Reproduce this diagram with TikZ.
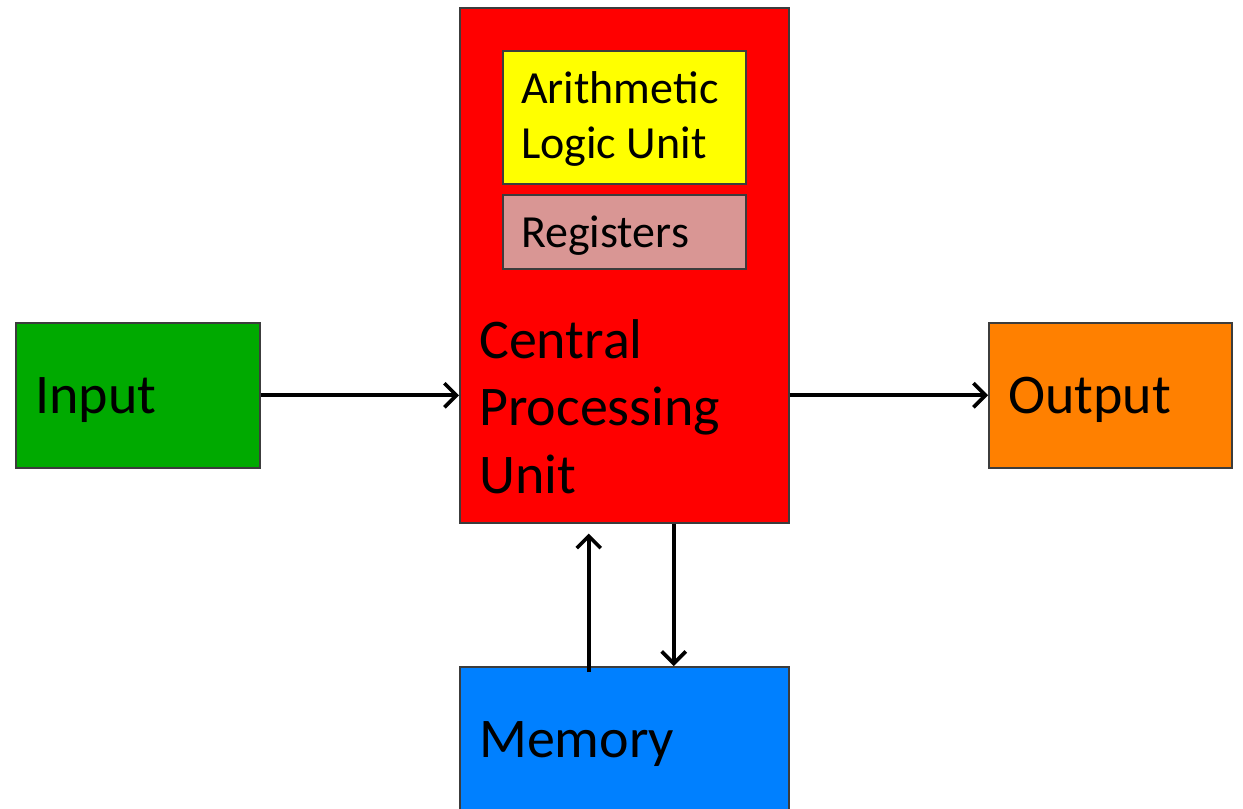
\documentclass[tikz,border=0pt]{standalone}
\usepackage{fontspec}
\setmainfont{Carlito}
\usetikzlibrary{arrows.meta}
\definecolor{ingreen}{RGB}{0,170,0}
\definecolor{cpured}{RGB}{255,0,0}
\definecolor{aluyellow}{RGB}{255,255,0}
\definecolor{regpink}{RGB}{217,150,148}
\definecolor{outorange}{RGB}{255,128,0}
\definecolor{memblue}{RGB}{0,128,255}
\definecolor{edgegray}{RGB}{60,60,60}
\tikzset{
  box/.style={draw=edgegray, line width=1.5pt, rectangle, inner sep=0pt, anchor=north west},
  bigtxt/.style={font=\fontsize{56}{67.5}\selectfont, anchor=base west, inner sep=0pt, align=left, text=black},
  smalltxt/.style={font=\fontsize{46}{55}\selectfont, anchor=base west, inner sep=0pt, align=left, text=black},
  arr/.style={draw=black, line width=3.6pt, -{Straight Barb[length=12pt, width=24pt, line width=3.6pt]}}
}
\begin{document}
\begin{tikzpicture}[x=1pt, y=-1pt]
\useasboundingbox (0,0) rectangle (1243,809);
\clip (0,0) rectangle (1243,809);
% boxes
\node[box, fill=ingreen, minimum width=244pt, minimum height=145pt] (input) at (15,322) {};
\node[box, fill=cpured, minimum width=329pt, minimum height=515pt] (cpu) at (459,7) {};
\node[box, fill=aluyellow, minimum width=243pt, minimum height=133pt] (alu) at (502,50) {};
\node[box, fill=regpink, minimum width=243pt, minimum height=74pt] (reg) at (502,194) {};
\node[box, fill=outorange, minimum width=243pt, minimum height=145pt] (output) at (988,322) {};
\node[box, fill=memblue, minimum width=329pt, minimum height=170pt] (memory) at (459,666) {};
% texts
\node[bigtxt] (inputtxt) at (35,413) {Input};
\node[bigtxt] (outputtxt) at (1008,413) {Output};
\node[bigtxt] (memtxt) at (479,757) {Memory};
\node[bigtxt, anchor=north west] (cputxt) at (479,319) {Central\\Processing\\Unit};
\node[smalltxt, anchor=north west] (alutxt) at (521,71) {Arithmetic\\Logic Unit};
\node[smalltxt] (regtxt) at (521,247) {Registers};
% connectors
\draw[arr] (input.east) -- (cpu.west |- input.east);
\draw[arr] (cpu.east |- output.west) -- (output.west);
\draw[arr] ([shift={(-35.5,6)}]memory.north) -- ([shift={(-35.5,10)}]cpu.south);
\draw[arr] ([xshift=49.5pt]cpu.south) -- ([xshift=49.5pt]memory.north);
\end{tikzpicture}
\end{document}
